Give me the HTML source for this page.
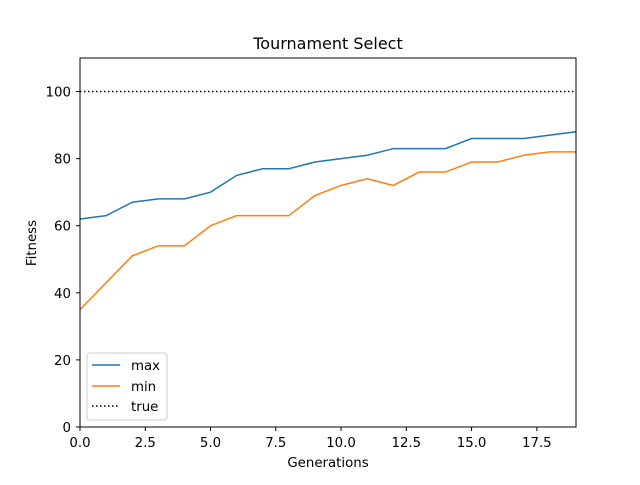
<!DOCTYPE html>
<html><head><meta charset="utf-8"><style>
html,body{margin:0;padding:0;background:#fff;}
svg text{font-family:"DejaVu Sans","Liberation Sans",sans-serif;fill:#000;}
</style></head><body>
<svg id="chart" width="640" height="480" xmlns="http://www.w3.org/2000/svg">
<rect width="640" height="480" fill="#fff"/>
<text x="328" y="49" font-size="16" text-anchor="middle">Tournament Select</text>
<g id="ticks"></g>
<g id="lines"></g>
<rect x="80" y="58" width="496" height="369" fill="none" stroke="#000" stroke-width="1"/>
<text x="328" y="467" font-size="13.33" text-anchor="middle">Generations</text>
<text x="36" y="243" font-size="13.33" text-anchor="middle" transform="rotate(-90 36 243)">Fitness</text>
<g>
<rect x="87" y="353" width="80" height="67" rx="3" fill="#fff" stroke="#ccc" stroke-width="1"/>
<g><line x1="92" y1="365" x2="120" y2="365" stroke="#1f77b4" stroke-width="1.5"/><text x="131" y="370" font-size="13.33">max</text></g>
<g><line x1="92" y1="386" x2="120" y2="386" stroke="#ff7f0e" stroke-width="1.5"/><text x="131" y="391" font-size="13.33">min</text></g>
<g><line x1="92" y1="406" x2="120" y2="406" stroke="#000" stroke-width="1.5" stroke-dasharray="1.5,2.5"/><text x="131" y="411" font-size="13.33">true</text></g>
</g>
</svg>
<script>
const generations=[0,1,2,3,4,5,6,7,8,9,10,11,12,13,14,15,16,17,18,19];
const maxValues=[62,63,67,68,68,70,75,77,77,79,80,81,83,83,83,86,86,86,87,88];
const minValues=[35,43,51,54,54,60,63,63,63,69,72,74,72,76,76,79,79,81,82,82];
const trueValue=100;
const xTicks=[0,2.5,5,7.5,10,12.5,15,17.5];
const xTickLabels=["0.0","2.5","5.0","7.5","10.0","12.5","15.0","17.5"];
const yTicks=[0,20,40,60,80,100];
const NS="http://www.w3.org/2000/svg";
const xs=v=>80+v/19*496;
const ys=v=>427-v/110*369;
const tk=document.getElementById('ticks');
function mk(tag,attrs,parent){const e=document.createElementNS(NS,tag);for(const k in attrs)e.setAttribute(k,attrs[k]);parent.appendChild(e);return e;}
xTicks.forEach((t,i)=>{
  const l=mk('line',{x1:xs(t),y1:427,x2:xs(t),y2:431,stroke:'#000'},tk);
  
  
  const tx=mk('text',{x:xs(t),y:447,'font-size':13.33,'text-anchor':'middle'},tk);
  tx.textContent=xTickLabels[i];
  
  
});
yTicks.forEach(t=>{
  const l=mk('line',{x1:76,y1:ys(t),x2:80,y2:ys(t),stroke:'#000'},tk);
  
  
  const tx=mk('text',{x:71,y:ys(t)+5,'font-size':13.33,'text-anchor':'end'},tk);
  tx.textContent=String(t);
  
  
});
const lg=document.getElementById('lines');
function series(vals,color,name){
  const p=mk('polyline',{points:vals.map((v,i)=>xs(generations[i])+','+ys(v)).join(' '),fill:'none',stroke:color,'stroke-width':1.5},lg);
  
  
}
series(maxValues,'#1f77b4','max-line');
series(minValues,'#ff7f0e','min-line');
const tl=mk('line',{x1:xs(0),y1:ys(trueValue),x2:xs(19),y2:ys(trueValue),stroke:'#000','stroke-width':1.5,'stroke-dasharray':'1.5,2.5'},lg);


</script>
</body></html>
